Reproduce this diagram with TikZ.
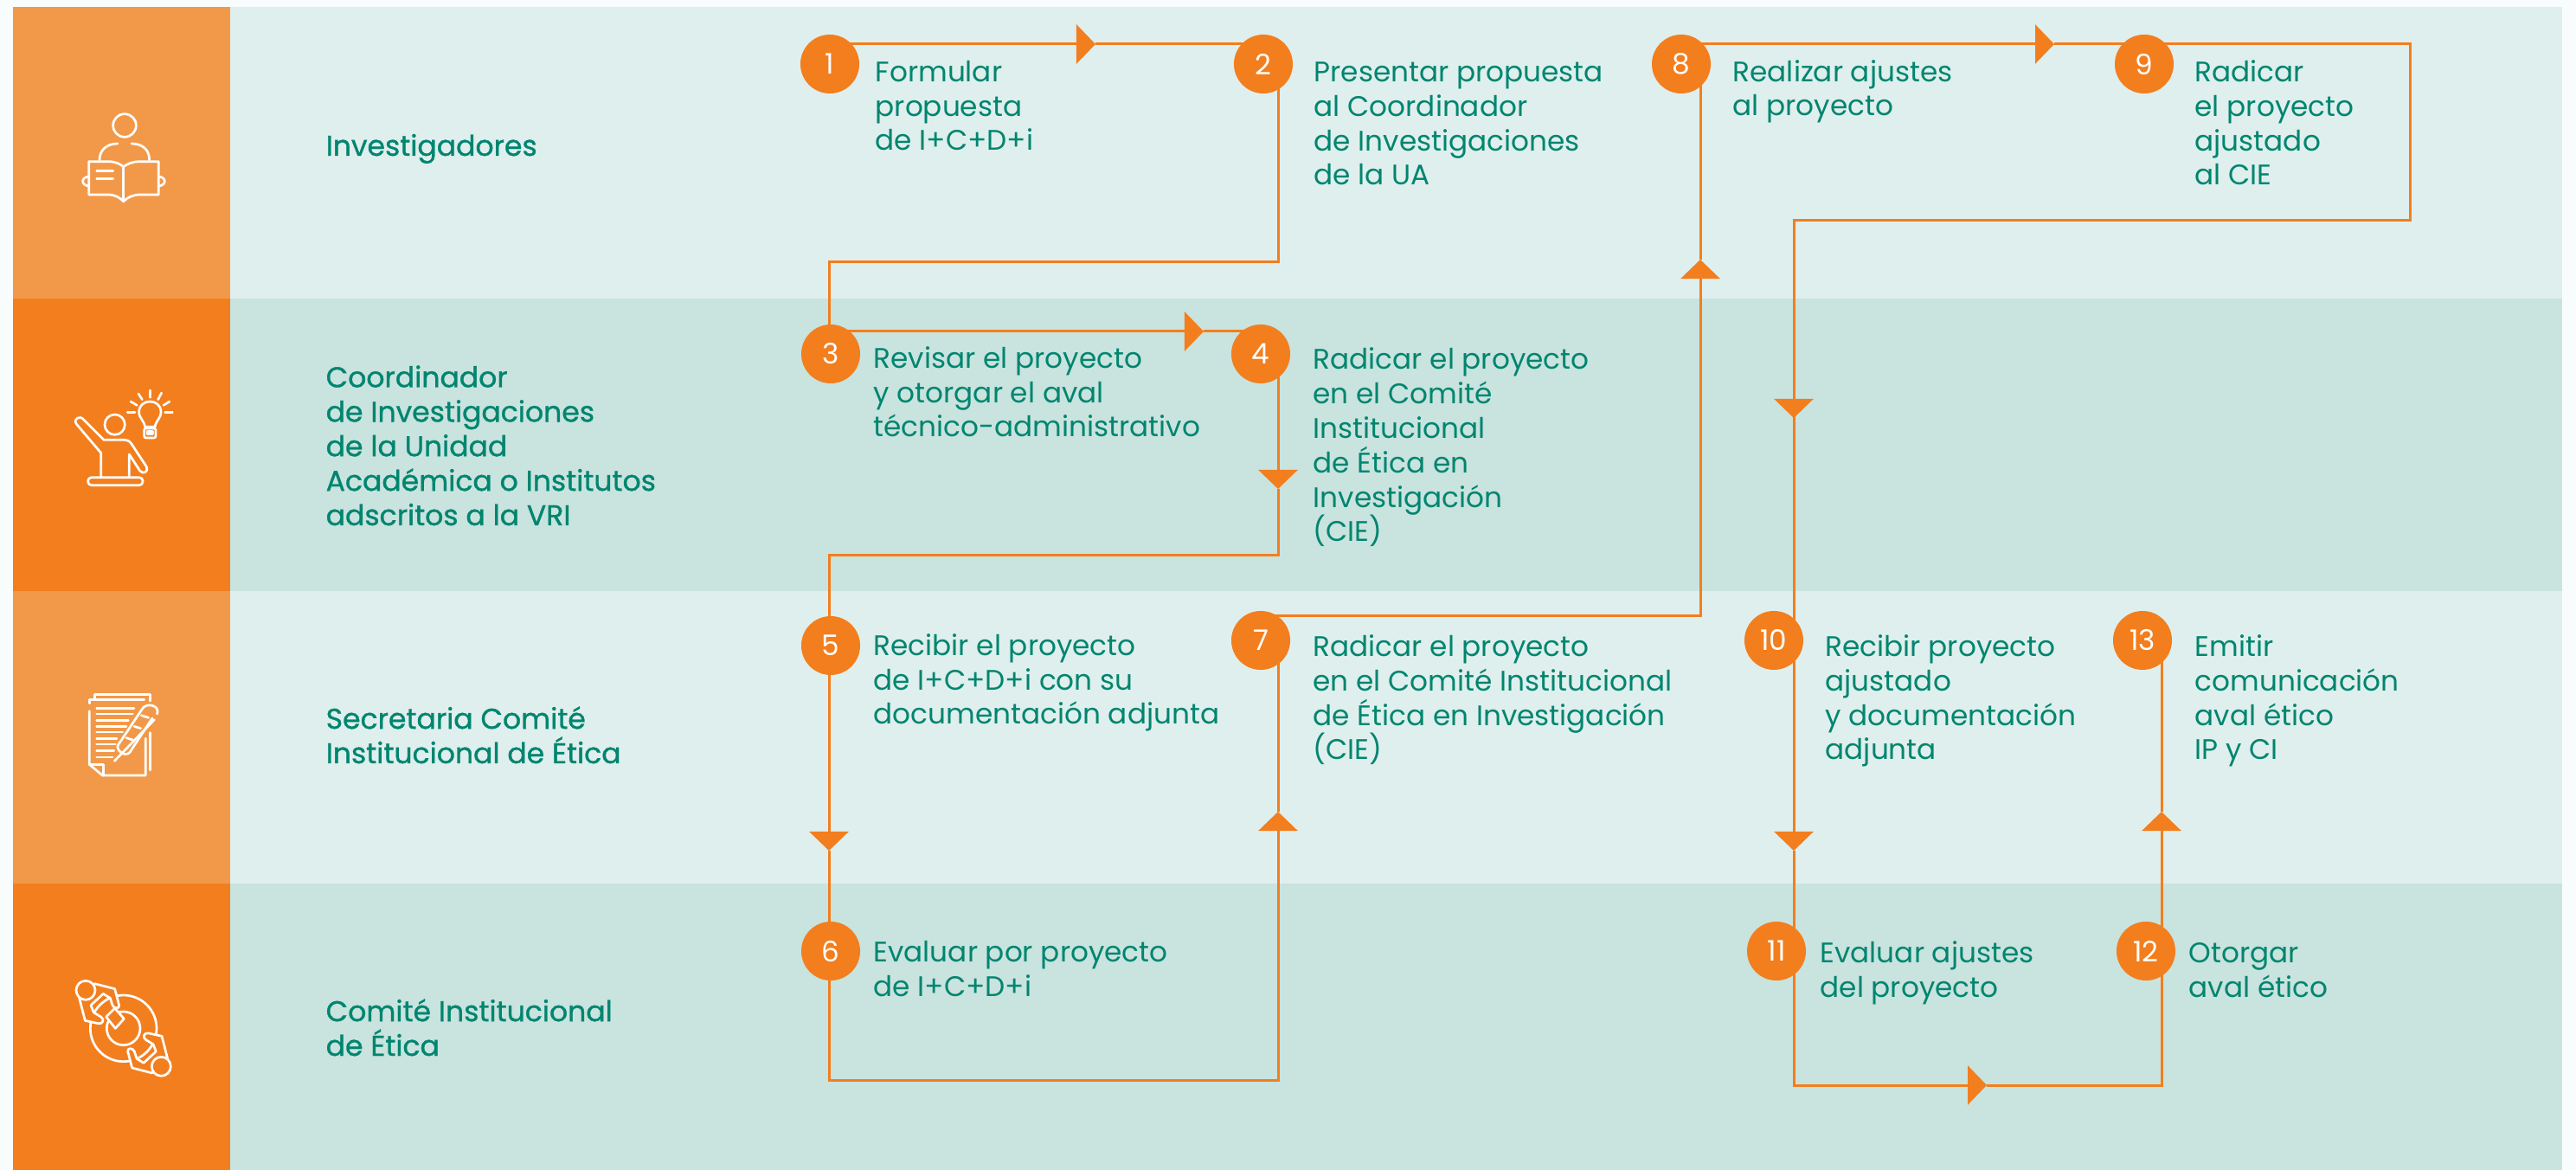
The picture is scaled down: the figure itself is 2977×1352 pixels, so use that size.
\documentclass[tikz,border=0pt]{standalone}
\usepackage{fontspec}
\setmainfont{Poppins}
\newfontfamily\rotulofont[FakeBold=0.9]{Poppins}
\usetikzlibrary{arrows.meta}
\usetikzlibrary{backgrounds}
\definecolor{naranja}{HTML}{F37E1E}
\definecolor{naranjaclaro}{HTML}{F29949}
\definecolor{bandaclara}{HTML}{DFEFED}
\definecolor{bandaoscura}{HTML}{C9E3DF}
\definecolor{verde}{HTML}{00856F}
\definecolor{fondo}{HTML}{F8FCFD}
\tikzset{
    paso/.style={circle,fill=naranja,text=white,minimum size=0.68cm,inner sep=0pt,font=\fontsize{9.3}{11}\selectfont},
    texto/.style={anchor=base west,inner sep=0pt,align=left,text=verde,font=\fontsize{9.3}{11.34}\selectfont},
    rotulo/.style={anchor=base west,inner sep=0pt,align=left,text=verde,font=\fontsize{9.4}{11.34}\rotulofont\selectfont},
    linea/.style={draw=naranja,line width=0.03cm},
    flecha/.style={linea,-{Triangle[length=0.22cm,width=0.45cm]}},
    icono/.style={draw=white,line width=0.027cm,line cap=round,line join=round},
}
\begin{document}
\begin{tikzpicture}[x=0.01cm,y=-0.01cm]
    \useasboundingbox (0,0) rectangle (2977,1352);

    \foreach \a/\x/\y in{1/959/74,2/1460/74,3/960/409,4/1457/409,5/960/746,6/960/1099,7/1457/740,8/1943/74,9/2478/74,10/2050/740,11/2053/1099,12/2480/1099,13/2476/740}
    {
        \node[paso] (P\a) at (\x,\y) {\a};
    }

    \foreach \a/\x/\y/\t in{
        1/1011/174/{Formular\\propuesta\\de I+C+D+i},
        2/1518/214/{Presentar propuesta\\al Coordinador\\de Investigaciones\\de la UA},
        3/1009/505/{Revisar el proyecto\\y otorgar el aval\\técnico-administrativo},
        4/1517/626/{Radicar el proyecto\\en el Comité\\Institucional\\de Ética en\\Investigación\\(CIE)},
        5/1009/837/{Recibir el proyecto\\de I+C+D+i con su\\documentación adjunta},
        6/1009/1151/{Evaluar por proyecto\\de I+C+D+i},
        7/1517/878/{Radicar el proyecto\\en el Comité Institucional\\de Ética en Investigación\\(CIE)},
        8/2002/134/{Realizar ajustes\\al proyecto},
        9/2536/214/{Radicar\\el proyecto\\ajustado\\al CIE},
        10/2109/878/{Recibir proyecto\\ajustado\\y documentación\\adjunta},
        11/2103/1152/{Evaluar ajustes\\del proyecto},
        12/2529/1152/{Otorgar\\aval ético},
        13/2536/878/{Emitir\\comunicación\\aval ético\\IP y CI}}
    {
        \node[texto] (T\a) at (\x,\y) {\t};
    }

    \foreach \a/\y/\t in{
        1/180/{Investigadores},
        2/607/{Coordinador\\de Investigaciones\\de la Unidad\\Académica o Institutos\\adscritos a la VRI},
        3/882/{Secretaria Comité\\Institucional de Ética},
        4/1220/{Comité Institucional\\de Ética}}
    {
        \node[rotulo] (L\a) at (376,\y) {\t};
    }

    \coordinate (F12) at (1266,51);
    \coordinate (K2) at (1477,303);
    \coordinate (K3) at (958,303);
    \coordinate (F34) at (1391,383);
    \coordinate (F45) at (1477,565);
    \coordinate (K4) at (1477,642);
    \coordinate (K5) at (958,642);
    \coordinate (F56) at (958,983);
    \coordinate (K6) at (958,1248);
    \coordinate (K7) at (1477,1248);
    \coordinate (F67) at (1477,938);
    \coordinate (K78) at (1965,712);
    \coordinate (F78) at (1965,300);
    \coordinate (F89) at (2374,51);
    \coordinate (K9) at (2785,51);
    \coordinate (K9B) at (2785,255);
    \coordinate (K10) at (2073,255);
    \coordinate (F910) at (2073,483);
    \coordinate (F1011) at (2073,983);
    \coordinate (K11) at (2073,1254);
    \coordinate (F1112) at (2296,1254);
    \coordinate (K12) at (2498,1254);
    \coordinate (F1213) at (2498,938);

    \begin{scope}[on background layer]
        \fill[fondo] (0,0) rectangle (2977,1352);
        \foreach \y/\h/\c/\d in{8/345/naranjaclaro/bandaclara,345/683/naranja/bandaoscura,683/1021/naranjaclaro/bandaclara,1021/1352/naranja/bandaoscura}
        {
            \fill[\c] (15,\y) rectangle (266,\h);
            \fill[\d] (266,\y) rectangle (2961,\h);
        }

        \draw[flecha] (P1 |- F12) -- (F12);
        \draw[linea] (F12) -- (P2 |- F12);
        \draw[linea] (P2 -| K2) -- (K2) -- (K3) -- (K3 |- P3);
        \draw[flecha] (P3 |- F34) -- (F34);
        \draw[linea] (F34) -- (P4 |- F34);
        \draw[flecha] (P4 -| F45) -- (F45);
        \draw[linea] (F45) -- (K4) -- (K5) -- (K5 |- P5);
        \draw[flecha] (P5 -| F56) -- (F56);
        \draw[linea] (F56) -- (P6 -| F56);
        \draw[flecha] (P6 -| K6) -- (K6) -- (K7) -- (F67);
        \draw[linea] (F67) -- (P7 -| F67);
        \draw[flecha] (P7 |- K78) -- (K78) -- (F78);
        \draw[linea] (F78) -- (P8 -| F78);
        \draw[flecha] (P8 |- F89) -- (F89);
        \draw[linea] (F89) -- (P9 |- F89) -- (K9) -- (K9B) -- (K10) -- (F910);
        \draw[flecha] (K10) -- (F910);
        \draw[linea] (F910) -- (P10 -| F910);
        \draw[flecha] (P10 -| F1011) -- (F1011);
        \draw[linea] (F1011) -- (P11 -| F1011);
        \draw[flecha] (P11 -| K11) -- (K11) -- (F1112);
        \draw[linea] (F1112) -- (K12) -- (P12 -| K12);
        \draw[flecha] (P12 -| F1213) -- (F1213);
        \draw[linea] (F1213) -- (P13 -| F1213);
    \end{scope}

    % lector
    \begin{scope}[shift={(70,110)},scale=1/3,icono]
        \draw (222,105) circle (40);
        \draw (198,168) .. controls (160,168) and (135,190) .. (135,225);
        \draw (246,168) .. controls (285,168) and (308,190) .. (308,225);
        \draw (98,230) -- (165,230) .. controls (190,230) and (205,238) .. (218,248) .. controls (232,238) and (250,230) .. (275,230) -- (340,230) -- (340,345) -- (275,345) .. controls (250,345) and (232,355) .. (218,368) .. controls (205,355) and (190,345) .. (165,345) -- (98,345) -- cycle;
        \draw (218,248) -- (218,368);
        \draw (125,262) -- (182,262);
        \draw (125,290) -- (182,290);
        \draw (98,282) .. controls (70,285) and (70,312) .. (98,315);
        \draw (340,282) .. controls (368,285) and (368,312) .. (340,315);
    \end{scope}

    % idea
    \begin{scope}[shift={(70,440)},scale=1/3,icono]
        \draw (188,152) circle (35);
        \draw (140,335) -- (140,250) -- (55,150) .. controls (42,132) and (68,118) .. (80,135) -- (150,205) -- (220,205) .. controls (235,205) and (242,212) .. (248,222) -- (298,298) .. controls (305,318) and (285,325) .. (275,312) -- (238,255) -- (238,335);
        \draw[rounded corners=0.04cm] (95,335) rectangle (285,362);
        \draw (293,160) .. controls (288,135) and (272,130) .. (272,108) .. controls (272,60) and (348,60) .. (348,108) .. controls (348,130) and (332,135) .. (327,160) -- cycle;
        \draw[rounded corners=0.02cm] (290,165) rectangle (330,198);
        \draw (300,175) rectangle (320,185);
        \foreach \xa/\ya/\xb/\yb in{232/110/258/110,243/72/265/85,270/45/283/65,310/33/310/58,350/42/338/65,378/72/357/85,362/110/388/110}
        {
            \draw (\xa,\ya) -- (\xb,\yb);
        }
    \end{scope}

    % documento
    \begin{scope}[shift={(70,780)},scale=1/3,icono]
        \draw (118,85) -- (118,67) -- (310,67) -- (310,90);
        \draw (100,98) -- (100,85) -- (290,85);
        \draw (100,125) -- (100,310) -- (145,348) -- (295,348) -- (295,220);
        \draw (100,310) -- (148,310) -- (148,348);
        \draw (310,200) -- (310,330);
        \foreach \y/\x in{115/255,135/250,157/235,178/228,198/215,220/195,240/190,262/185,285/180}
        {
            \draw (125,\y) -- (\x,\y);
        }
        \draw (187,298) -- (325,155);
        \draw (198,245) -- (285,115) .. controls (300,95) and (345,105) .. (335,135);
        \draw (198,245) .. controls (195,265) and (225,285) .. (240,268) -- (318,150);
        \draw (228,218) -- (250,225);
        \draw (255,178) -- (278,185);
        \draw (280,140) -- (305,148);
    \end{scope}

    % comite
    \begin{scope}[shift={(70,1120)},scale=1/3,icono]
        \draw (218,205) circle (115);
        \draw (218,205) circle (58);
        \foreach \g in{0,180}
        {
            \begin{scope}[rotate around={\g:(218,205)}]
                \draw[fill=naranja] (118,50) -- (188,68) -- (203,125) .. controls (205,138) and (185,138) .. (180,125) -- (172,100) -- (148,85) -- (105,125) -- (115,150) -- (140,165) .. controls (155,175) and (145,192) .. (130,188) -- (85,178) -- (65,100);
                \draw[fill=naranja] (87,73) circle (33);
            \end{scope}
        }
        \draw[fill=naranja] (158,165) -- (188,135) -- (220,172) -- (190,205) -- cycle;
    \end{scope}
\end{tikzpicture}
\end{document}
